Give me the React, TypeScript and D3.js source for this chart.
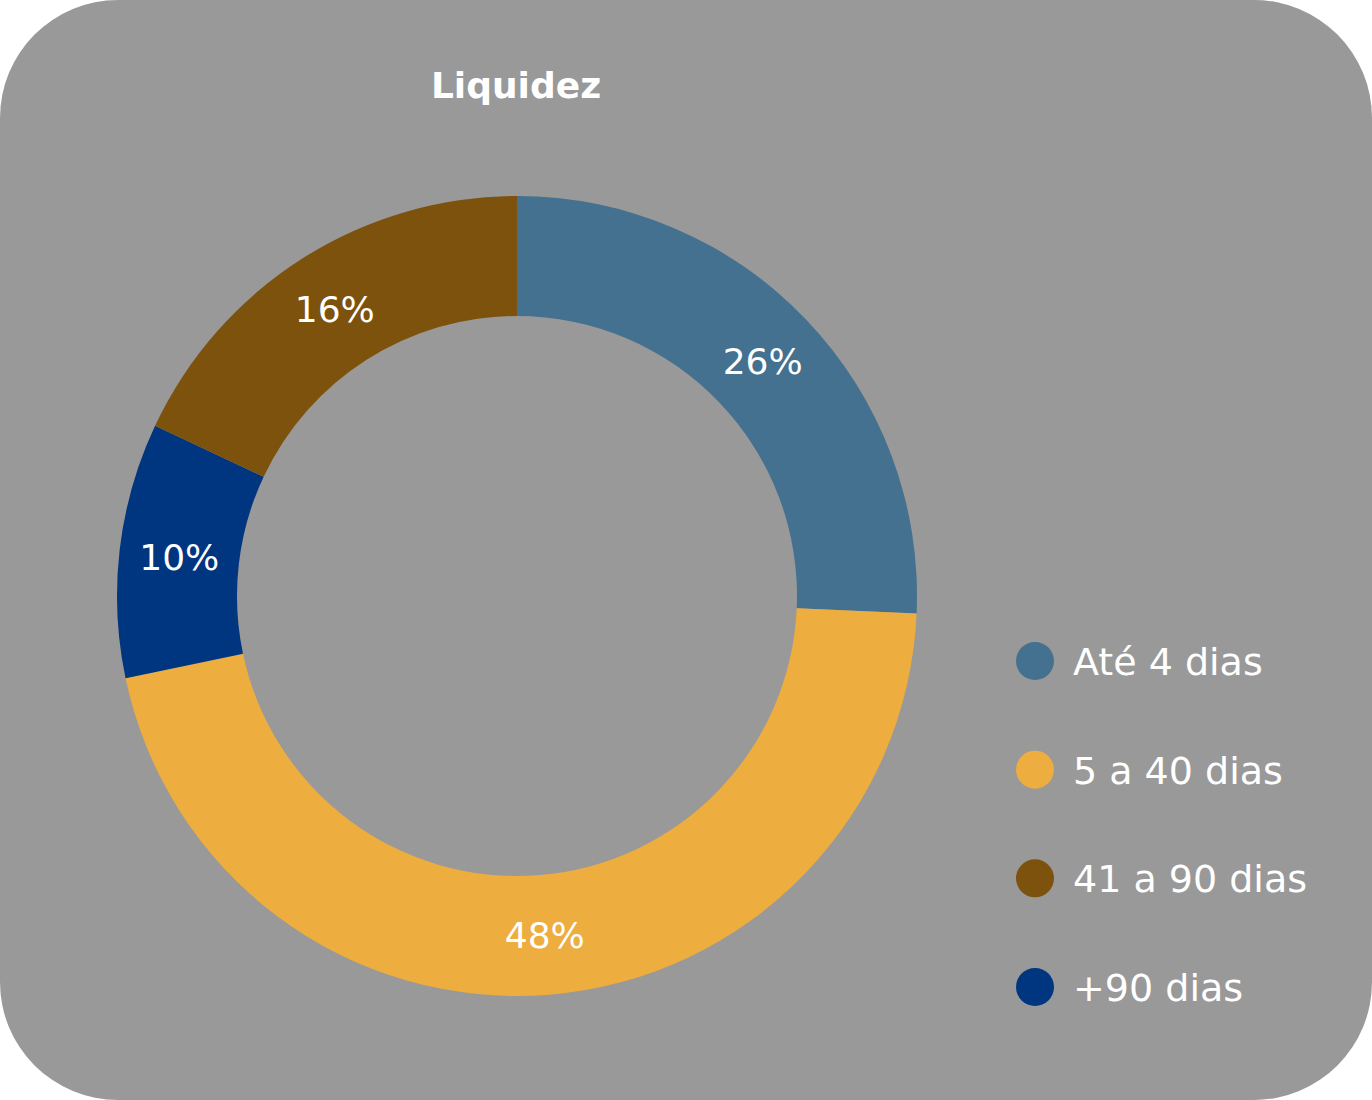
import React from "react";
import * as d3 from "d3";

// Legend order
const categories = ["Até 4 dias", "5 a 40 dias", "41 a 90 dias", "+90 dias"];
const values = [25.7, 46.0, 18.0, 10.3];
// Printed slice labels
const labels = ["26%", "48%", "16%", "10%"];
const colors = ["#44718F", "#EDAD3F", "#7D520C", "#003580"];
// Clockwise order of slices starting at 12 o'clock
const sliceOrder = ["Até 4 dias", "5 a 40 dias", "+90 dias", "41 a 90 dias"];
const title = "Liquidez";

const W = 1372;
const H = 1100;
const FONT = "'DejaVu Sans', sans-serif";

export default function App() {
  const cx = 517;
  const cy = 596;
  const outerR = 400;
  const innerR = 280;

  const data = sliceOrder.map((c) => {
    const i = categories.indexOf(c);
    return { cat: c, value: values[i], label: labels[i], color: colors[i] };
  });

  const pie = d3
    .pie<(typeof data)[number]>()
    .sort(null)
    .value((d) => d.value);
  const arcs = pie(data);
  const arc = d3
    .arc<d3.PieArcDatum<(typeof data)[number]>>()
    .innerRadius(innerR)
    .outerRadius(outerR);

  const legendY = d3.scalePoint<string>().domain(categories).range([661, 987]);
  const legendX = 1035;
  const legendR = 19;
  const legendFont = 38;
  const labelFont = 36;

  return (
    <svg
      width={W}
      height={H}
      style={{ position: "absolute", left: 0, top: 0 }}
      fontFamily={FONT}
    >
      <rect x={0} y={0} width={W} height={H} rx={118} ry={118} fill="#999999" />
      <text
        x={516}
        y={98}
        textAnchor="middle"
        fontSize={36}
        fontWeight="bold"
        fill="#ffffff"
      >
        {title}
      </text>
      <g transform={`translate(${cx},${cy})`}>
        {arcs.map((a) => (
          <path key={a.data.cat} d={arc(a) || ""} fill={a.data.color} />
        ))}
        {arcs.map((a) => {
          const [x, y] = arc.centroid(a);
          return (
            <text
              key={a.data.cat + "-l"}
              x={x}
              y={y + labelFont * 0.365}
              textAnchor="middle"
              fontSize={labelFont}
              fill="#ffffff"
            >
              {a.data.label}
            </text>
          );
        })}
      </g>
      <g>
        {categories.map((c, i) => (
          <g key={c}>
            <circle cx={legendX} cy={legendY(c)} r={legendR} fill={colors[i]} />
            <text
              x={1073}
              y={(legendY(c) || 0) + legendFont * 0.365}
              fontSize={legendFont}
              fill="#ffffff"
            >
              {c}
            </text>
          </g>
        ))}
      </g>
    </svg>
  );
}
